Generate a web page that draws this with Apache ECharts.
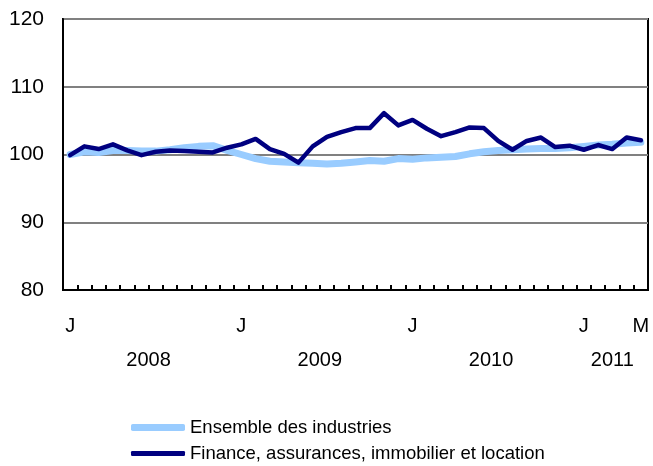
<!DOCTYPE html>
<html>
<head>
<meta charset="utf-8">
<script src="https://cdn.jsdelivr.net/npm/echarts@6/dist/echarts.min.js"></script>
<style>
  html, body { margin: 0; padding: 0; background: #fff; }
  #chart { width: 653px; height: 466px; }
</style>
</head>
<body>
<div id="chart"></div>
<script>
// mois de janvier 2008 à mai 2011
var years = ['2008', '2009', '2010', '2011'];
var monthLetters = ['J', 'F', 'M', 'A', 'M', 'J', 'J', 'A', 'S', 'O', 'N', 'D'];
var monthCount = [12, 12, 12, 5];

// Ensemble des industries
var ensemble = [
  100.0, 100.4, 100.3, 100.6, 100.6, 100.5, 100.5, 100.7, 101.0, 101.2, 101.3, 100.6,
  100.0, 99.4, 99.0, 98.9, 98.8, 98.7, 98.6, 98.7, 98.9, 99.1, 99.0, 99.4,
  99.3, 99.5, 99.6, 99.7, 100.1, 100.4, 100.6, 100.7, 100.8, 100.9, 100.9, 101.0,
  101.2, 101.4, 101.5, 101.7, 101.8
];
// Finance, assurances, immobilier et location
var finance = [
  99.9, 101.2, 100.8, 101.5, 100.6, 99.9, 100.4, 100.6, 100.5, 100.4, 100.3, 101.0,
  101.5, 102.3, 100.8, 100.1, 98.8, 101.2, 102.6, 103.3, 103.9, 103.9, 106.1, 104.3,
  105.1, 103.8, 102.7, 103.3, 104.0, 103.9, 102.0, 100.7, 102.0, 102.5, 101.1, 101.3,
  100.7, 101.4, 100.8, 102.5, 102.1
];

var categories = [];
var yearMid = {};
var idx = 0;
years.forEach(function (y, k) {
  var first = idx;
  for (var m = 0; m < monthCount[k]; m++) {
    categories.push(monthLetters[m] + '|' + y + '|' + m);
    idx++;
  }
  yearMid[(first + idx - 1) / 2] = y;
});
var yearPos = Object.keys(yearMid).map(Number);

var font = 'Liberation Sans, Arial, sans-serif';
var legendText = { fontFamily: font, fontSize: 18.5, color: '#000' };

var chart = echarts.init(document.getElementById('chart'));
chart.setOption({
  animation: false,
  grid: {
    left: 63, right: 5, top: 19, bottom: 176,
    show: true, borderColor: '#000', borderWidth: 2
  },
  // une légende par ligne, l'une sous l'autre
  legend: [{
    left: 131, top: 418, padding: 0,
    icon: 'roundRect',
    itemWidth: 54, itemHeight: 7, itemGap: 4,
    textStyle: legendText,
    data: ['Ensemble des industries']
  }, {
    left: 131, top: 444, padding: 0,
    icon: 'roundRect',
    itemWidth: 54, itemHeight: 5,
    textStyle: legendText,
    data: ['Finance, assurances, immobilier et location']
  }],
  xAxis: [{
    type: 'category',
    data: categories,
    boundaryGap: true,
    axisLine: { onZero: false, lineStyle: { color: '#000', width: 2 } },
    axisTick: { show: true, inside: true, length: 5, interval: 0, alignWithLabel: false, lineStyle: { color: '#000', width: 2 } },
    axisLabel: {
      margin: 26, color: '#000', fontFamily: font, fontSize: 20,
      interval: function (i, v) {
        var p = v.split('|');
        return p[2] === '0' || i === categories.length - 1;
      },
      formatter: function (v) { return v.split('|')[0]; }
    },
    splitLine: { show: false }
  }, {
    type: 'value',
    position: 'bottom',
    min: -0.5, max: categories.length - 0.5,
    axisLine: { show: false, onZero: false },
    axisTick: { show: false },
    splitLine: { show: false },
    axisLabel: {
      customValues: yearPos,
      margin: 60, color: '#000', fontFamily: font, fontSize: 20,
      formatter: function (v) { return yearMid[v] || ''; }
    }
  }],
  yAxis: {
    type: 'value',
    min: 80, max: 120, interval: 10,
    axisLine: { show: true, onZero: false, lineStyle: { color: '#000', width: 2 } },
    axisTick: { show: false },
    axisLabel: { margin: 19, color: '#000', fontFamily: font, fontSize: 21 },
    splitLine: { lineStyle: { color: '#808080', width: 2 } }
  },
  series: [{
    name: 'Ensemble des industries',
    type: 'line',
    data: ensemble,
    symbol: 'none',
    lineStyle: { color: '#99ccff', width: 7, cap: 'round', join: 'round' },
    itemStyle: { color: '#99ccff' }
  }, {
    name: 'Finance, assurances, immobilier et location',
    type: 'line',
    data: finance,
    symbol: 'none',
    lineStyle: { color: '#000080', width: 4.5, cap: 'round', join: 'round' },
    itemStyle: { color: '#000080' }
  }]
});
</script>
</body>
</html>
